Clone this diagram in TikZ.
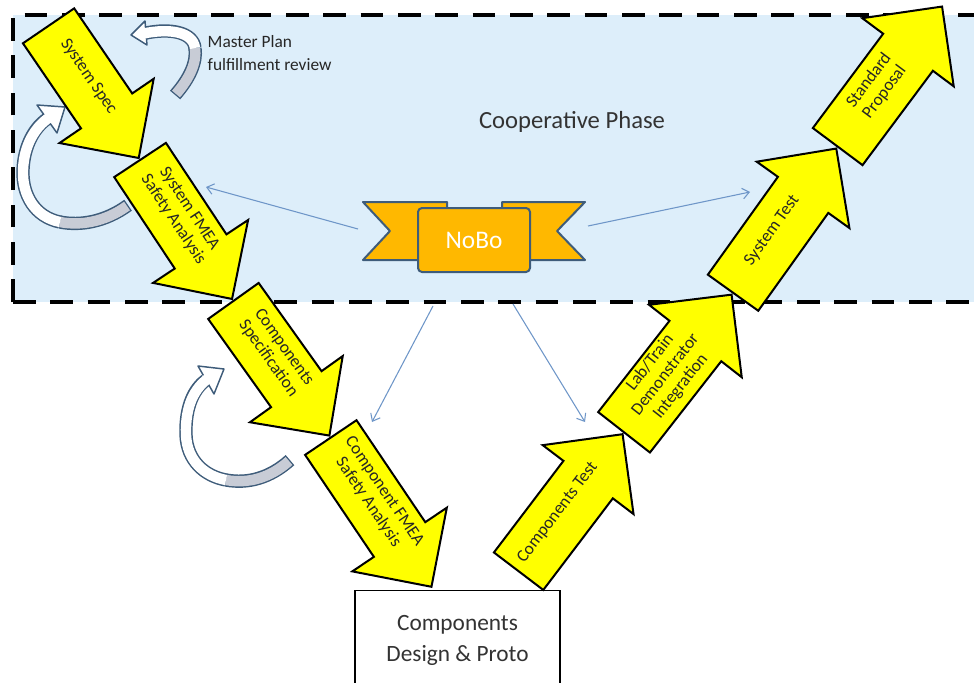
\documentclass[tikz,border=0pt]{standalone}
\usepackage{fontspec}
\setmainfont{Carlito}
\usepackage{tikz}
\usetikzlibrary{shapes.arrows,arrows.meta}

\definecolor{phaseblue}{RGB}{221,238,250}
\definecolor{stepyellow}{RGB}{255,255,0}
\definecolor{ribbon}{RGB}{255,184,0}
\definecolor{ribbonedge}{RGB}{62,92,122}
\definecolor{linkblue}{RGB}{110,150,200}
\definecolor{loopgray}{RGB}{200,204,214}

\newcommand{\steptext}[1]{\rule[-22pt]{0pt}{44pt}\begin{tabular}{@{}c@{}}#1\end{tabular}}

\begin{document}
\begin{tikzpicture}[x=0.75pt,y=-0.75pt,
  stage/.style={single arrow, draw=black, line width=1.5pt, fill=stepyellow,
    minimum width=84pt, single arrow head extend=19.5pt, anchor=tail,
    inner xsep=1pt, inner ysep=0.5pt, text=black!85, font=\fontsize{13}{14.5}\selectfont},
  link/.style={-{Straight Barb[length=5pt,width=8pt]}, draw=linkblue, line width=0.8pt},
  loopedge/.style={draw=ribbonedge, line width=10pt},
  loopfront/.style={draw=white, line width=7.8pt},
  loopback/.style={draw=loopgray, line width=7.8pt},
  loophead/.style={fill=white, draw=ribbonedge, line width=1.1pt, line join=round},
  ribbonpart/.style={fill=ribbon, draw=ribbonedge, line width=1.5pt, line join=round}]
\useasboundingbox (0,0) rectangle (974,682);
\clip (0,0) rectangle (974,682);

% cooperative phase
\fill[phaseblue] (13,15) rectangle (990,302);
\draw[line width=3pt, dash pattern=on 17pt off 11pt] (13,302) -- (13,15) -- (990,15);
\draw[line width=3pt, dash pattern=on 17pt off 11pt] (13,302) -- (990,302);
\node[font=\fontsize{18.5}{22}\selectfont, text=black!80] (coop) at (572,122) {Cooperative Phase};
\node[anchor=north west, align=left, font=\fontsize{13}{17}\selectfont, text=black!85] (review) at (203,31) {Master Plan\\fulfillment review};

% review loops
\draw[loopedge, shorten <=-1pt] (176,94) .. controls (190,78) and (197,62) .. (195,48);
\draw[loopedge] (195,48) .. controls (193,32) and (170,28) .. (146,33);
\filldraw[loophead] (145,21) -- (131,35) -- (147,45) -- cycle;
\draw[loopback] (176,94) .. controls (190,78) and (197,62) .. (195,48);
\draw[loopfront, shorten >=-2pt] (195,48) .. controls (193,32) and (170,28) .. (146,33);

\draw[loopedge, shorten <=-1pt] (127,206) .. controls (105,222) and (80,226) .. (60,222);
\draw[loopedge] (60,222) .. controls (35,217) and (22,195) .. (23,170) .. controls (24,145) and (35,127) .. (47,119);
\filldraw[loophead] (37,105) -- (65,107) -- (57,133) -- cycle;
\draw[loopback] (127,206) .. controls (105,222) and (80,226) .. (60,222);
\draw[loopfront, shorten >=-2pt] (60,222) .. controls (35,217) and (22,195) .. (23,170) .. controls (24,145) and (35,127) .. (47,119);

\draw[loopedge, shorten <=-1pt] (289,461) .. controls (270,478) and (248,484) .. (226,480);
\draw[loopedge] (226,480) .. controls (204,476) and (187,460) .. (186,435) .. controls (185,405) and (195,388) .. (206,380);
\filldraw[loophead] (198,366) -- (224,369) -- (214,394) -- cycle;
\draw[loopback] (289,461) .. controls (270,478) and (248,484) .. (226,480);
\draw[loopfront, shorten >=-2pt] (226,480) .. controls (204,476) and (187,460) .. (186,435) .. controls (185,405) and (195,388) .. (206,380);

\node[draw=black, line width=1.2pt, fill=white, minimum width=154pt, minimum height=75pt,
  anchor=north, align=center, font=\fontsize{17.5}{23}\selectfont, text=black!80] (design) at (457.5,589.5) {Components\\Design \& Proto};

% left leg
\node[stage, rotate=-55.7, minimum height=120pt] (sysspec) at (48,25) {\steptext{System Spec}};
\node[stage, rotate=-56.5, minimum height=125pt] (sysfmea) at (sysspec.tip) {\steptext{System FMEA\\Safety Analysis}};
\node[stage, rotate=-54.5, minimum height=124pt] (compspec) at (sysfmea.tip) {\steptext{Components\\Specification}};
\node[stage, rotate=-56, minimum height=135pt] (compfmea) at (compspec.tip) {\steptext{Component FMEA\\Safety Analysis}};

% right leg
\node[stage, rotate=52.8, minimum height=129pt] (comptest) at (518,572) {\steptext{Components Test}};
\node[stage, rotate=52, minimum height=131pt] (labtrain) at (comptest.tip) {\steptext{Lab/Train\\Demonstrator\\Integration}};
\node[stage, rotate=54.4, minimum height=133pt] (systest) at (labtrain.tip) {\steptext{System Test}};
\node[stage, rotate=53.3, minimum height=131pt] (stdprop) at (systest.tip) {\steptext{Standard\\Proposal}};

% NoBo ribbon
\filldraw[ribbonpart] (363,202) -- (447,202) -- (447,260) -- (363,260) -- (390,231) -- cycle;
\filldraw[ribbonpart] (585,202) -- (502,202) -- (502,260) -- (585,260) -- (557,231) -- cycle;
\node[ribbonpart, rounded corners=3pt, minimum width=84pt, minimum height=48pt, text=white,
  font=\fontsize{19}{22}\selectfont] (nobo) at (474,240) {NoBo};

\coordinate (nobowest) at (358,229);
\coordinate (noboeast) at (588,226);
\coordinate (nobosw) at (433,306);
\coordinate (noboso) at (513,304);
\coordinate (fmeamark) at (206,187);
\coordinate (testmark) at (750,192);
\coordinate (compmark) at (372,422);
\coordinate (ctestmark) at (585,422);
\draw[link] (nobowest) -- (fmeamark);
\draw[link] (noboeast) -- (testmark);
\draw[link] (nobosw) -- (compmark);
\draw[link] (noboso) -- (ctestmark);
\end{tikzpicture}
\end{document}
